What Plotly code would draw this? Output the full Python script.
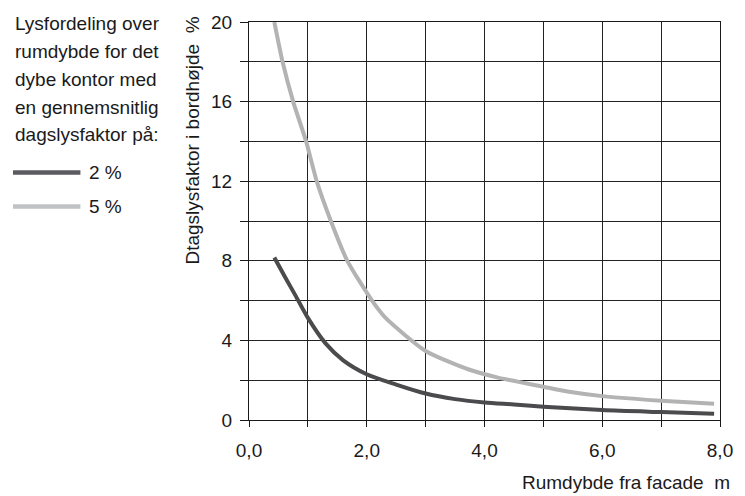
import plotly.graph_objects as go

# ---- data ----
depth_2 = [0.43, 0.6, 0.8, 1.0, 1.3, 1.6, 2.0, 2.5, 3.0, 3.5, 4.0, 4.5, 5.0, 6.0, 7.0, 7.9]
df_2 = [8.17, 7.25, 6.2, 5.13, 3.85, 3.0, 2.3, 1.78, 1.33, 1.05, 0.88, 0.78, 0.67, 0.5, 0.4, 0.32]

depth_5 = [0.43, 0.57, 0.75, 0.97, 1.15, 1.39, 1.67, 2.09, 2.32, 3.0, 3.72, 4.23, 4.56, 5.0, 5.41, 6.0, 7.0, 7.9]
df_5 = [20.0, 18.0, 16.0, 14.0, 12.0, 10.0, 8.0, 6.0, 5.13, 3.47, 2.55, 2.13, 1.93, 1.67, 1.43, 1.2, 0.97, 0.82]

x_tickvals = [0, 1, 2, 3, 4, 5, 6, 7, 8]
x_ticktext = ["0,0", "", "2,0", "", "4,0", "", "6,0", "", "8,0"]
y_tickvals = [0, 2, 4, 6, 8, 10, 12, 14, 16, 18, 20]
y_ticktext = ["0", "", "4", "", "8", "", "12", "", "16", "", "20"]

series_names = ["2 %", "5 %"]
line_colors = ["#4b4b4d", "#b3b3b3"]
legend_colors = ["#5a5a60", "#c0c2c4"]

note_lines = ["Lysfordeling over", "rumdybde for det", "dybe kontor med",
              "en gennemsnitlig", "dagslysfaktor på:"]
y_title = "Dtagslysfaktor i bordhøjde\u00a0\u00a0%"
x_title = "Rumdybde fra facade\u00a0\u00a0m"

FONT = "Liberation Sans, Arial, sans-serif"
FS = 19

W, H = 745, 496
ML, MR, MT, MB = 249, 21, 19, 76
PW, PH = W - ML - MR, H - MT - MB


def px_x(px):
    return (px - ML) / PW


def px_y(py):
    return (H - MB - py) / PH


fig = go.Figure()
fig.add_trace(go.Scatter(x=depth_2, y=df_2, mode="lines", name=series_names[0],
                         line=dict(color=line_colors[0], width=4, shape="spline", smoothing=0.8),
                         showlegend=False))
fig.add_trace(go.Scatter(x=depth_5, y=df_5, mode="lines", name=series_names[1],
                         line=dict(color=line_colors[1], width=4, shape="spline", smoothing=0.6),
                         showlegend=False))

axis_common = dict(showline=True, linecolor="#1a1a1a", linewidth=1.3, mirror=True,
                   showgrid=True, gridcolor="#222222", gridwidth=1.1,
                   ticks="outside", tickcolor="#1a1a1a", tickwidth=1.2,
                   zeroline=False, tickfont=dict(family=FONT, size=FS, color="#1a1a1a"))

fig.update_xaxes(range=[0, 8], tickmode="array", tickvals=x_tickvals, ticktext=x_ticktext,
                 ticklen=6, ticklabelstandoff=7, **axis_common)
fig.update_yaxes(range=[0, 20], tickmode="array", tickvals=y_tickvals, ticktext=y_ticktext,
                 ticklen=8, ticklabelstandoff=4, **axis_common)

annotations = []
baselines = [27.3, 55, 83.3, 111.7, 139.3]
for txt, b in zip(note_lines, baselines):
    annotations.append(dict(text=txt, xref="paper", yref="paper", x=px_x(11), y=px_y(b - 6.5),
                            xanchor="left", yanchor="middle", showarrow=False,
                            font=dict(family=FONT, size=FS, color="#1a1a1a")))

legend_y = [170.7, 205]
shapes = []
for name, col, ly in zip(series_names, legend_colors, legend_y):
    shapes.append(dict(type="line", xref="paper", yref="paper", x0=px_x(11), x1=px_x(79),
                       y0=px_y(ly), y1=px_y(ly), line=dict(color=col, width=4.5)))
    annotations.append(dict(text=name, xref="paper", yref="paper", x=px_x(86), y=px_y(ly),
                            xanchor="left", yanchor="middle", showarrow=False,
                            font=dict(family=FONT, size=FS, color="#1a1a1a")))

annotations.append(dict(text=y_title, xref="paper", yref="paper", x=px_x(192), y=px_y(138),
                        xanchor="center", yanchor="middle", textangle=-90, showarrow=False,
                        font=dict(family=FONT, size=FS, color="#1a1a1a")))
annotations.append(dict(text=x_title, xref="paper", yref="paper", x=px_x(736), y=px_y(483),
                        xanchor="right", yanchor="middle", showarrow=False,
                        font=dict(family=FONT, size=FS, color="#1a1a1a")))

fig.update_layout(width=W, height=H, margin=dict(l=ML, r=MR, t=MT, b=MB, pad=0),
                  paper_bgcolor="white", plot_bgcolor="white",
                  annotations=annotations, shapes=shapes, showlegend=False)

fig.write_html("out.html", config={"responsive": False, "displayModeBar": False},
               post_script="document.body.style.margin='0';document.body.style.overflow='hidden';")
